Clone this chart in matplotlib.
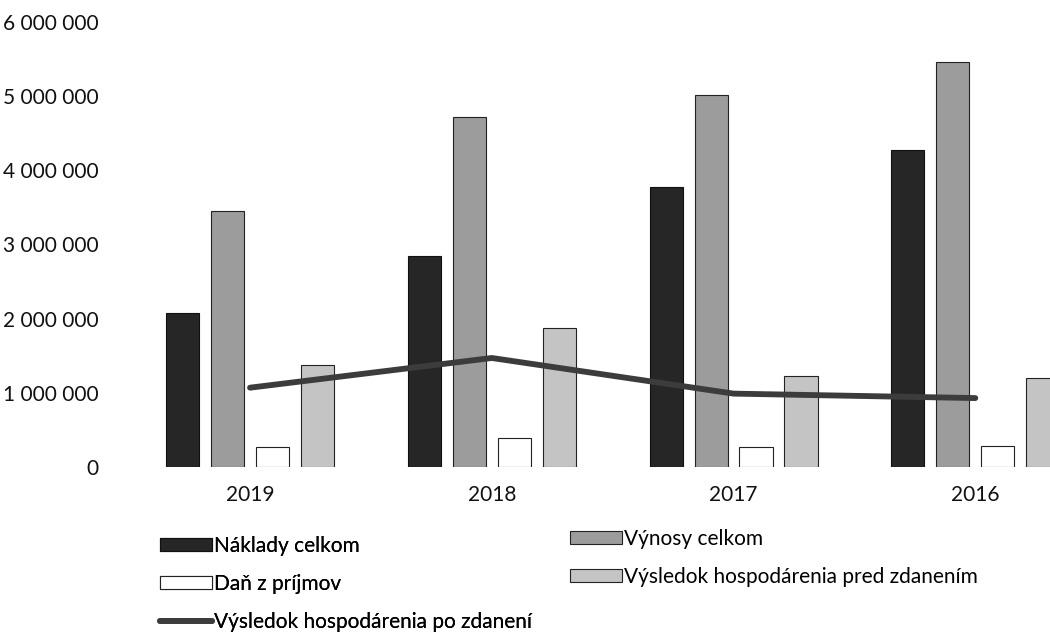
import numpy as np
import matplotlib.pyplot as plt
import matplotlib.ticker as mticker

plt.rcParams['font.family'] = ['Lato', 'DejaVu Sans']

years = ['2019', '2018', '2017', '2016']
naklady = [2070000, 2850000, 3780000, 4270000]
vynosy = [3450000, 4720000, 5010000, 5460000]
dan = [270000, 390000, 270000, 280000]
vh_pred = [1370000, 1880000, 1230000, 1200000]
vh_po = [1070000, 1470000, 990000, 930000]

fig = plt.figure(figsize=(10.5, 6.39), dpi=100)
ax = fig.add_axes([0.123, 0.269, 0.921, 0.697])

x = np.arange(len(years))
w = 0.137
step = 0.186

b1 = ax.bar(x - 1.5 * step, naklady, w, color='#262626', edgecolor='#111111', linewidth=0.8)
b2 = ax.bar(x - 0.5 * step, vynosy, w, color='#9c9c9c', edgecolor='#222222', linewidth=0.8)
b3 = ax.bar(x + 0.5 * step, dan, w, color='white', edgecolor='#222222', linewidth=0.8)
b4 = ax.bar(x + 1.5 * step, vh_pred, w, color='#c4c4c4', edgecolor='#222222', linewidth=0.8)
l1, = ax.plot(x, vh_po, color='#3c3c3c', linewidth=4.2, solid_capstyle='round')

ax.set_xlim(-0.5, 3.5)
ax.set_ylim(0, 6000000)
ax.set_yticks(np.arange(0, 6000001, 1000000))
ax.yaxis.set_major_formatter(mticker.FuncFormatter(lambda v, p: f'{int(v):,}'.replace(',', ' ')))
ax.set_xticks(x)
ax.set_xticklabels(years)
for s in ax.spines.values():
    s.set_visible(False)
ax.tick_params(axis='both', length=0, labelsize=15, colors='#111111')
ax.tick_params(axis='y', pad=22)
ax.tick_params(axis='x', pad=13)

leg_kw = dict(loc='upper left', frameon=False, fontsize=15, handlelength=2.5,
              handleheight=0.55, handletextpad=0.1, labelspacing=0.85,
              borderpad=0, borderaxespad=0)
leg1 = fig.legend([b1, b3, l1],
                  ['Náklady celkom', 'Daň z príjmov', 'Výsledok hospodárenia po zdanení'],
                  bbox_to_anchor=(0.152, 0.161), **leg_kw)
fig.add_artist(leg1)
fig.legend([b2, b4], ['Výnosy celkom', 'Výsledok hospodárenia pred zdanením'],
           bbox_to_anchor=(0.543, 0.172), **leg_kw)

fig.savefig('out.png', dpi=100)
